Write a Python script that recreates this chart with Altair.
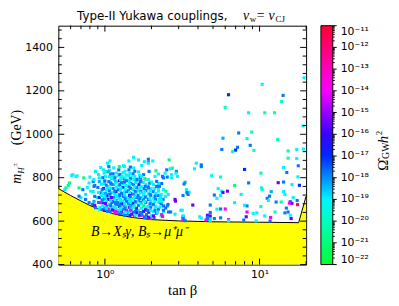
import math
import altair as alt
import pandas as pd

# colour levels (log10 of Omega_GW h^2)
G, GC, C, LB, B, DB, P, M, RM, R = -20.8, -20.0, -19.0, -18.3, -17.8, -17.0, -15.5, -14.0, -12.8, -11.8

# (tan beta, m_H+ [GeV], log10 Omega)
left_points = [
    (0.56, 753, G), (0.58, 765, G), (0.59, 776, G), (0.55, 745, C), (0.65, 806, C), (0.61, 810, C),
    (0.73, 799, G), (0.80, 803, C), (0.87, 829, C), (0.94, 847, C), (1.02, 829, C), (1.06, 851, B),
    (0.99, 821, C), (0.79, 776, C), (0.84, 783, B), (0.72, 745, B), (0.77, 756, C), (0.75, 723, C),
    (0.70, 708, C), (0.68, 715, B), (0.81, 738, C), (0.85, 760, B), (0.75, 700, B), (0.79, 685, B),
    (0.83, 677, B), (0.87, 662, B), (0.92, 655, C), (0.96, 654, B), (0.99, 650, P), (1.04, 645, B),
    (0.94, 685, M), (0.89, 708, C), (0.99, 700, C), (1.06, 723, B), (1.04, 753, C), (0.94, 730, B),
    (1.09, 776, B), (0.99, 783, C), (0.92, 799, C), (0.68, 753, G), (1.08, 877, C), (1.04, 867, C),
    (1.07, 834, C), (0.62, 814, C), (0.66, 808, C),
]

mid_points = [
    (1.53, 894, C), (1.65, 882, C), (1.80, 874, C), (1.91, 885, B), (1.91, 870, B), (2.04, 877, C),
    (1.24, 851, G), (1.34, 851, C), (1.46, 849, B), (1.73, 856, C), (1.93, 829, B), (2.14, 832, G),
    (2.22, 817, C), (2.36, 806, B), (2.11, 806, C), (2.51, 836, B), (1.82, 794, G), (1.70, 801, B),
    (1.11, 806, C), (1.16, 799, B), (1.29, 806, C), (1.56, 806, C), (1.61, 791, B), (1.44, 786, C),
    (2.00, 780, C), (2.16, 783, B), (2.33, 773, B), (2.16, 760, B), (1.91, 753, B), (2.22, 738, C),
    (2.31, 723, C), (1.96, 723, B), (2.33, 692, C), (2.39, 670, B), (2.11, 662, C), (2.19, 640, C),
    (2.31, 624, GC), (2.36, 622, RM), (2.06, 624, P), (1.96, 612, M), (1.82, 617, B), (1.73, 632, B),
    (1.61, 640, P), (1.89, 650, B), (1.77, 670, G), (1.43, 877, C), (1.91, 867, C), (2.45, 821, C),
    (2.39, 799, B), (2.73, 844, G), (2.90, 829, B), (2.95, 806, C), (1.72, 806, C), (2.22, 745, C),
    (2.84, 700, P), (1.91, 618, P), (2.33, 630, M),
]

edge_points = [
    (2.60, 882, G), (2.64, 841, C), (2.88, 821, C), (2.69, 814, C), (2.53, 803, B), (2.70, 799, C),
    (2.48, 738, G), (3.37, 735, C), (3.45, 723, B), (5.70, 738, C), (5.30, 705, C), (2.86, 692, P),
    (2.53, 670, B), (2.39, 650, B), (2.58, 642, B), (2.66, 642, B), (2.84, 632, C), (3.16, 650, C),
    (3.20, 621, B), (3.24, 605, B), (4.20, 614, C), (4.80, 609, C), (3.37, 745, C),
]

core_points = [
    (0.85, 791, C), (0.86, 764, B), (0.84, 736, C), (0.86, 714, B), (0.85, 691, LB), (0.86, 673, P),
    (0.91, 814, C), (0.92, 782, LB), (0.90, 755, B), (0.91, 732, C), (0.92, 709, DB), (0.91, 686, B), (0.93, 664, C),
    (0.98, 836, C), (0.97, 800, B), (0.99, 773, C), (0.98, 750, DB), (0.97, 727, C), (0.99, 705, B), (0.98, 682, P), (1.00, 659, B),
    (1.05, 827, LB), (1.07, 805, C), (1.06, 782, B), (1.05, 759, C), (1.07, 741, B), (1.06, 718, C), (1.05, 700, DB),
    (1.07, 677, C), (1.06, 655, M), (1.08, 645, B),
    (1.14, 845, C), (1.13, 818, B), (1.15, 791, C), (1.14, 768, LB), (1.13, 750, B), (1.15, 727, C), (1.14, 709, B),
    (1.13, 691, P), (1.15, 668, C), (1.14, 650, B), (1.16, 638, M),
    (1.23, 836, B), (1.22, 809, C), (1.24, 786, DB), (1.23, 764, C), (1.22, 745, B), (1.24, 723, LB), (1.23, 705, C),
    (1.22, 686, B), (1.24, 668, DB), (1.23, 650, C), (1.25, 632, P),
    (1.32, 855, C), (1.31, 823, C), (1.33, 795, B), (1.32, 773, C), (1.31, 755, DB), (1.33, 732, C), (1.32, 714, B),
    (1.31, 691, C), (1.33, 673, M), (1.32, 655, B), (1.31, 636, C), (1.34, 627, B),
    (1.43, 836, B), (1.42, 809, C), (1.44, 782, C), (1.43, 759, B), (1.42, 741, LB), (1.44, 718, DB), (1.43, 700, C),
    (1.42, 682, B), (1.44, 664, P), (1.43, 645, C), (1.45, 627, DB),
    (1.53, 845, C), (1.52, 818, B), (1.54, 791, C), (1.53, 768, B), (1.52, 745, C), (1.54, 723, B), (1.53, 705, C),
    (1.52, 682, DB), (1.54, 664, C), (1.53, 641, B), (1.55, 623, M),
    (1.65, 827, C), (1.64, 795, C), (1.66, 768, DB), (1.65, 741, C), (1.64, 718, B), (1.66, 695, LB), (1.65, 673, B),
    (1.64, 650, C), (1.67, 627, P),
    (1.78, 814, B), (1.77, 777, C), (1.79, 750, B), (1.78, 723, C), (1.77, 700, B), (1.79, 673, C), (1.78, 645, DB), (1.80, 620, B),
    (1.91, 791, C), (1.90, 759, B), (1.92, 727, C), (1.91, 700, B), (1.90, 668, C), (1.92, 641, P),
    (2.06, 768, C), (2.05, 736, B), (2.07, 705, C), (2.06, 677, B), (2.05, 645, C), (2.08, 616, B),
    (2.22, 773, C), (2.21, 718, B), (2.23, 686, C), (2.22, 655, B),
    (2.39, 745, C), (2.38, 700, B), (2.40, 645, C),
    (2.57, 723, C), (2.56, 677, B),
]

core_fill = [
    (1.02, 766, B), (1.02, 743, C), (1.03, 716, DB), (1.02, 692, C), (1.03, 668, B),
    (1.10, 795, C), (1.10, 770, B), (1.11, 732, C), (1.10, 709, P), (1.11, 686, B), (1.10, 662, C),
    (1.19, 822, C), (1.18, 780, B), (1.19, 757, C), (1.18, 736, DB), (1.19, 714, C), (1.18, 695, B), (1.19, 677, M),
    (1.18, 659, C), (1.20, 641, B),
    (1.27, 800, C), (1.28, 778, B), (1.27, 750, C), (1.28, 727, B), (1.27, 700, C), (1.28, 680, DB), (1.27, 662, C), (1.28, 643, P),
    (1.37, 814, C), (1.38, 786, B), (1.37, 764, C), (1.38, 736, B), (1.37, 709, C), (1.38, 691, B), (1.37, 668, C),
    (1.38, 650, M), (1.39, 632, B),
    (1.48, 800, C), (1.47, 773, B), (1.48, 750, C), (1.47, 727, DB), (1.48, 695, C), (1.47, 673, B), (1.48, 655, C), (1.49, 632, P),
    (1.59, 778, C), (1.60, 755, B), (1.59, 732, C), (1.60, 709, B), (1.59, 686, C), (1.60, 659, DB), (1.61, 636, C),
    (1.71, 786, B), (1.72, 759, C), (1.71, 736, B), (1.72, 709, C), (1.71, 686, B), (1.72, 659, C), (1.73, 627, M),
    (1.85, 768, C), (1.84, 741, B), (1.85, 714, C), (1.84, 686, B), (1.85, 659, C), (1.86, 630, B),
    (1.99, 750, C), (1.98, 718, B), (1.99, 691, C), (1.98, 664, B), (2.00, 625, C),
    (2.14, 727, C), (2.13, 700, B), (2.14, 668, C), (2.15, 636, B),
    (2.30, 709, C), (2.31, 680, B), (2.46, 714, C), (2.47, 660, B),
]

core_fill2 = [
    (0.95, 770, C), (0.96, 745, B), (0.95, 718, C), (0.96, 697, B), (0.97, 672, C),
    (1.01, 805, C), (1.00, 785, B), (1.01, 728, LB), (1.00, 712, C), (1.01, 681, P), (1.02, 660, C),
    (1.09, 817, B), (1.09, 752, C), (1.08, 725, B), (1.09, 695, C), (1.09, 672, B), (1.12, 652, P),
    (1.16, 805, C), (1.17, 776, C), (1.16, 739, B), (1.17, 720, C), (1.16, 700, C), (1.17, 682, B), (1.16, 664, C), (1.17, 645, M),
    (1.25, 815, B), (1.26, 790, C), (1.25, 768, B), (1.26, 741, C), (1.25, 717, B), (1.26, 693, C), (1.25, 673, B),
    (1.26, 655, C), (1.27, 637, B),
    (1.35, 830, C), (1.35, 800, C), (1.34, 780, B), (1.35, 745, C), (1.34, 722, C), (1.35, 703, B), (1.34, 680, C),
    (1.35, 660, B), (1.36, 640, C),
    (1.45, 820, C), (1.46, 795, B), (1.45, 770, C), (1.46, 752, B), (1.45, 732, C), (1.46, 712, B), (1.45, 688, C),
    (1.46, 668, LB), (1.47, 650, M),
    (1.56, 830, B), (1.57, 780, C), (1.56, 758, C), (1.57, 738, B), (1.56, 714, C), (1.57, 690, B), (1.56, 670, C),
    (1.58, 645, B), (1.58, 628, C),
    (1.68, 810, C), (1.69, 782, B), (1.68, 752, C), (1.69, 730, C), (1.68, 705, B), (1.69, 680, C), (1.70, 640, B),
    (1.81, 795, C), (1.82, 760, B), (1.81, 735, C), (1.82, 710, B), (1.81, 690, C), (1.83, 652, P),
    (1.95, 775, B), (1.96, 740, C), (1.95, 705, C), (1.96, 680, B), (1.97, 650, C),
    (2.10, 750, C), (2.11, 715, B), (2.10, 690, C), (2.11, 650, B), (2.25, 760, B), (2.26, 700, C), (2.27, 665, C),
]

wide_points = [
    (19.4, 1260, C), (10.4, 1230, C), (6.3, 1182, DB), (14.2, 1179, B), (6.0, 1124, GC), (13.9, 1151, GC),
    (8.5, 1099, C), (10.8, 1099, GC), (12.5, 1099, GC), (19.1, 1038, C), (7.33, 1006, B), (8.9, 1010, GC),
    (5.8, 982, LB), (8.3, 980, GC), (13.1, 976, GC), (8.7, 949, B), (7.2, 940, B), (7.0, 927, DB),
    (5.7, 930, B), (6.7, 920, GC), (9.2, 926, GC), (15.3, 923, GC), (17.4, 930, C), (19.2, 932, C),
    (3.9, 867, C), (4.2, 859, B), (4.2, 851, B), (3.8, 841, C), (15.3, 890, GC), (17.4, 888, C),
    (14.3, 847, C), (17.8, 855, B), (8.0, 838, DB), (10.2, 821, GC), (4.9, 809, C), (5.6, 803, C),
    (15.0, 824, B), (17.7, 804, C), (3.3, 779, LB), (3.25, 771, B), (8.5, 776, B), (6.9, 764, G),
    (13.2, 777, P), (14.3, 780, B), (16.2, 768, C), (18.1, 765, DB), (10.3, 753, C), (10.4, 745, GC),
    (5.4, 750, C), (6.2, 738, P), (5.8, 732, P), (3.5, 733, C), (3.4, 731, B), (3.2, 718, B),
    (5.1, 720, B), (5.6, 718, C), (7.6, 723, C), (14.3, 736, C), (14.6, 723, C), (11.9, 736, LB),
    (11.6, 715, B), (11.2, 705, B), (11.4, 695, C), (16.5, 708, C), (15.8, 690, B), (17.5, 695, B),
    (16.2, 682, P), (17.6, 676, R), (13.8, 688, GC), (12.8, 688, B), (14.9, 660, B), (15.3, 642, B),
    (15.8, 627, C), (16.0, 612, P), (12.6, 642, GC), (11.8, 617, M), (11.7, 601, B), (9.6, 638, C),
    (10.8, 624, C), (10.2, 667, C), (8.3, 670, B), (8.0, 673, C), (6.9, 685, C), (4.8, 674, B),
    (3.7, 674, P), (3.1, 650, C), (4.8, 640, B), (5.6, 656, B), (6.0, 656, M), (5.3, 655, C),
    (8.3, 642, M), (9.1, 635, C), (8.2, 620, P), (7.9, 605, B), (4.6, 627, P), (4.8, 624, P),
    (4.6, 617, B), (4.6, 609, B), (4.5, 605, M), (4.8, 601, C), (5.1, 612, B), (5.6, 615, B),
    (6.3, 607, M), (6.3, 601, C), (4.1, 620, C), (3.2, 624, C), (3.2, 612, B), (3.2, 604, M),
    (3.3, 602, B), (9.5, 601, C), (14.6, 638, B), (15.6, 683, M),
]

# exclusion boundary (B -> Xs gamma, Bs -> mu mu)
boundary_tanb = [0.5, 0.6, 0.7, 0.8, 0.9, 1.0, 1.2, 1.5, 2.0, 3.0, 5.0, 10.0, 17.9, 20.0]
boundary_mass = [750, 718, 693, 672, 657, 645, 630, 617, 607, 601, 597, 595, 593, 715]

# colour bar
cbar_stops = [-22, -19.1, -16.6, -13.9, -11]
cbar_colors = ["#00ff33", "#00ffff", "#0000ff", "#ff00ff", "#ff0030"]
cbar_decades = list(range(-22, -10))
cbar_minor_mult = [2, 3, 4, 5, 6, 7, 8, 9]

# axis ticks
y_major = [400, 600, 800, 1000, 1200, 1400]
y_minor = [440, 480, 520, 560, 640, 680, 720, 760, 840, 880, 920, 960,
           1040, 1080, 1120, 1160, 1240, 1280, 1320, 1360, 1440, 1480]
x_major = [1, 10]
x_minor = [0.6, 0.7, 0.8, 0.9, 2, 3, 4, 5, 6, 7, 8, 9, 20]

W, H = 251, 242
SERIF = "Liberation Serif"
SANS = "DejaVu Sans"

pts = pd.DataFrame(left_points + core_points + core_fill + core_fill2 + mid_points + edge_points + wide_points,
                   columns=["tb", "m", "lo"])
bdf = pd.DataFrame({"tb": boundary_tanb, "m": boundary_mass})
one_row = pd.DataFrame({"k": [0]})

sup = str.maketrans("-0123456789", "⁻⁰¹²³⁴⁵⁶⁷⁸⁹")
expr = "''"
for v in reversed(cbar_decades):
    expr = f"datum.value == {v} ? '10{str(v).translate(sup)}' : ({expr})"

xscale = alt.Scale(type="log", domain=[0.5, 20], nice=False)
yscale = alt.Scale(domain=[400, 1500], nice=False, zero=False)

xaxis = alt.Axis(values=x_major, labelExpr="datum.value < 5 ? '10⁰' : '10¹'", ticks=False, tickSize=0,
                 domain=False, grid=False, labelFont=SANS, labelFontSize=11, labelColor="black",
                 labelPadding=4, title="tan β", titleFont=SERIF, titleFontSize=15,
                 titleFontWeight="normal", titleColor="black", titlePadding=3)
yaxis = alt.Axis(values=y_major, format="d", ticks=False, tickSize=0, domain=False, grid=False,
                 labelFont=SANS, labelFontSize=11, labelColor="black", labelPadding=6,
                 labelFlush=False, title=None)
xenc = alt.X("tb:Q", scale=xscale, axis=xaxis)

cscale = alt.Scale(domain=cbar_stops, range=cbar_colors, interpolate="rgb")
legend = alt.Legend(orient="none", legendX=W + 15, legendY=0, direction="vertical",
                    gradientLength=H, gradientThickness=12, gradientStrokeColor="black",
                    gradientStrokeWidth=1, values=cbar_decades, labelExpr=expr, labelFont=SANS,
                    labelFontSize=11, labelColor="black", labelOffset=8, labelOverlap=False,
                    title=None, padding=0)

area = alt.Chart(bdf).mark_area(color="#ffff00", opacity=1).encode(
    x=xenc, y=alt.Y("m:Q", scale=yscale, axis=None), y2=alt.datum(400))
bline = alt.Chart(bdf).mark_line(color="black", strokeWidth=1).encode(
    x=xenc, y=alt.Y("m:Q", scale=yscale, axis=None))
points = alt.Chart(pts).mark_square(size=10, opacity=1).encode(
    x=xenc, y=alt.Y("m:Q", scale=yscale, axis=yaxis),
    color=alt.Color("lo:Q", scale=cscale, legend=legend))


def yticks(vals, x0, x1):
    return alt.Chart(pd.DataFrame({"m": vals})).mark_rule(color="black", strokeWidth=1).encode(
        y=alt.Y("m:Q", scale=yscale, axis=None), x=alt.value(x0), x2=alt.value(x1))


def xticks(vals, y0, y1):
    return alt.Chart(pd.DataFrame({"tb": vals})).mark_rule(color="black", strokeWidth=1).encode(
        x=xenc, y=alt.value(y0), y2=alt.value(y1))


cb_minor = [k + math.log10(j) for k in cbar_decades[:-1] for j in cbar_minor_mult]


def cbticks(vals, length):
    return alt.Chart(pd.DataFrame({"lo": vals})).mark_rule(color="black", strokeWidth=1).encode(
        y=alt.Y("lo:Q", scale=alt.Scale(domain=[-22, -11], nice=False, zero=False), axis=None),
        x=alt.value(W + 27), x2=alt.value(W + 27 + length))


def note(text, x, y, size, font, style="normal", angle=0, align="left"):
    return alt.Chart(one_row).mark_text(text=text, fontSize=size, font=font, fontStyle=style,
                                        angle=angle, align=align, baseline="middle",
                                        color="black").encode(x=alt.value(x), y=alt.value(y))


layers = [
    area, bline, points,
    yticks(y_major, 0, 6), yticks(y_minor, 0, 3.5), yticks(y_major, W - 6, W), yticks(y_minor, W - 3.5, W),
    xticks(x_major, H, H - 6), xticks(x_minor, H, H - 3.5), xticks(x_major, 0, 6), xticks(x_minor, 0, 3.5),
    cbticks(cbar_decades, 4), cbticks(cb_minor, 2),
    note("B→Xₛγ,  Bₛ→μ⁺μ⁻", 33, 209, 14, SERIF, "italic"),
    note("Type-II Yukawa couplings,", 19, -10, 12, SANS),
    note("v", 187, -10, 14, SERIF, "italic"),
    note("w", 194, -7, 9, SERIF),
    note("=", 201, -10, 14, SERIF),
    note("v", 213, -10, 14, SERIF, "italic"),
    note("CJ", 220, -7, 9, SERIF),
    note("m", -42, 160, 14, SERIF, "italic", 270),
    note("H", -38, 150, 9, SERIF, "italic", 270),
    note("±", -44, 143, 7, SERIF, "normal", 270),
    note("(GeV)", -42, 121, 14, SERIF, "normal", 270),
    note("Ω\u0302", 329, 147, 15, SERIF, "normal", 270),
    note("GW", 332, 135, 10, SERIF, "normal", 270),
    note("h", 329, 119, 15, SERIF, "italic", 270),
    note("2", 325, 111, 9, SERIF, "normal", 270),
]

chart = alt.layer(*layers).resolve_scale(y="independent").properties(
    width=W, height=H,
    padding={"left": 51, "top": 16, "right": 86, "bottom": 36},
    autosize=alt.AutoSizeParams(type="none"),
    background="white",
).configure_view(stroke="black", strokeWidth=1)

chart.save("out.html", embed_options={"renderer": "svg", "actions": False})
